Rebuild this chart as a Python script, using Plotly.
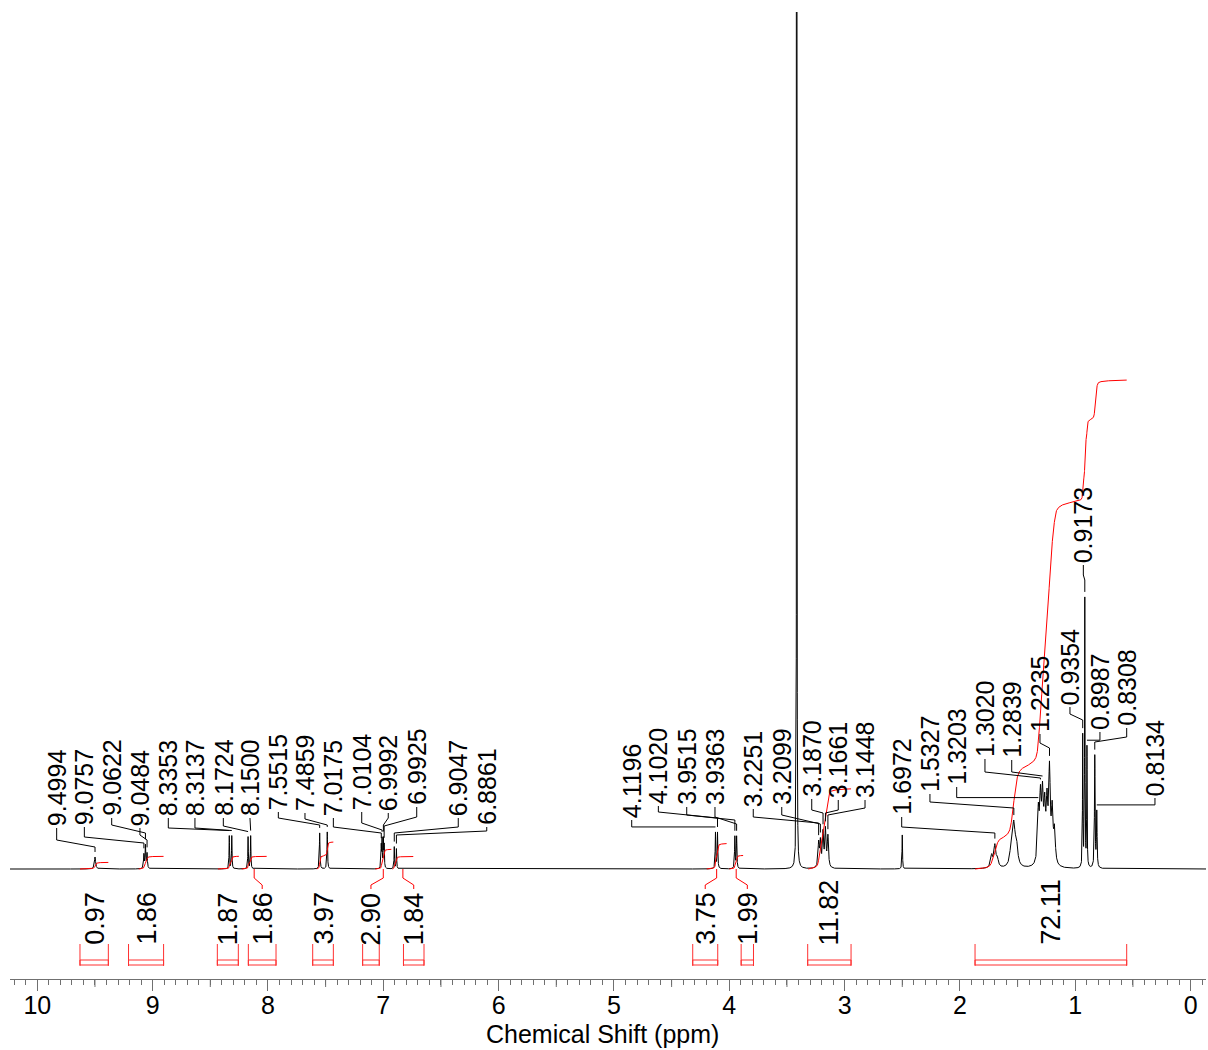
import numpy as np
import plotly.graph_objects as go

FONT = "Arial, 'Liberation Sans', sans-serif"

# ---------------------------------------------------------------
# Picked lines: chemical shift (ppm), intensity (a.u.), half-width (ppm)
# ---------------------------------------------------------------
peak_ppm = [9.4994, 9.0757, 9.0622, 9.0484, 8.3353, 8.3137, 8.1724, 8.1500,
            7.5515, 7.4859, 7.0175, 7.0104, 6.9992, 6.9925, 6.9047, 6.8861,
            4.1196, 4.1020, 3.9515, 3.9363,
            3.2251, 3.2099, 3.1870, 3.1661, 3.1448,
            1.6972, 1.5327, 1.3203, 1.3020, 1.2839, 1.2235,
            0.9354, 0.9173, 0.8987, 0.8308, 0.8134]
peak_height = [12, 14, 23, 15, 33, 33, 32, 33,
               36, 37, 22, 28, 28, 22, 22, 20,
               36, 36, 32, 32,
               24, 25, 34, 37, 31,
               22, 37, 50, 60, 62, 90,
               131, 268, 119, 112, 55]
peak_hwhm = [0.006, 0.0035, 0.0035, 0.0035, 0.0025, 0.0025, 0.0025, 0.0025,
             0.003, 0.003, 0.0025, 0.0025, 0.0025, 0.0025, 0.0025, 0.0025,
             0.003, 0.003, 0.003, 0.003,
             0.006, 0.006, 0.006, 0.006, 0.006,
             0.010, 0.013, 0.0083, 0.0083, 0.0083, 0.0083,
             0.0022, 0.0022, 0.0022, 0.0032, 0.0032]

# Unpicked lines: solvent signals and multiplet components
extra_ppm = [3.415, 2.500, 1.725, 1.675, 1.553, 1.510, 1.265, 1.245, 1.200, 1.180]
extra_height = [6000, 34, 12, 8, 22, 20, 50, 55, 50, 32]
extra_hwhm = [0.0008, 0.0025, 0.010, 0.010, 0.013, 0.013, 0.0083, 0.0083, 0.0083, 0.0083]

# Integral regions (ppm), their values (H) and bracket extents
integral_value = [0.97, 1.86, 1.87, 1.86, 3.97, 2.90, 1.84, 3.75, 1.99, 11.82, 72.11]
integral_from = [9.630, 9.121, 8.434, 8.228, 7.577, 7.070, 6.920, 4.196, 4.000, 3.315, 1.869]
integral_to = [9.384, 8.905, 8.252, 8.011, 7.433, 6.930, 6.740, 4.023, 3.880, 2.944, 0.554]
bracket_from = [9.630, 9.209, 8.439, 8.170, 7.612, 7.179, 6.825, 4.317, 3.897, 3.320, 1.869]
bracket_to = [9.384, 8.905, 8.257, 7.930, 7.433, 7.035, 6.647, 4.100, 3.790, 2.944, 0.554]
integral_linked = [False, False, False, True, False, True, True, True, True, False, False]

# Axis ticks
major_ticks = list(range(0, 11))
tick_labels = [str(v) for v in major_ticks]
x_title = "Chemical Shift (ppm)"

# ---------------------------------------------------------------
# Layout of the pick labels: column position (ppm), label foot,
# upper elbow and lower elbow of the leader (a.u. above baseline)
# ---------------------------------------------------------------
label_x = [9.832, 9.592, 9.355, 9.110, 8.864, 8.633, 8.387, 8.156,
           7.910, 7.679, 7.433, 7.187, 6.957, 6.710, 6.350, 6.103,
           4.846, 4.615, 4.369, 4.124,
           3.792, 3.545, 3.285, 3.055, 2.823,
           2.505, 2.260, 2.028, 1.783, 1.551, 1.306,
           1.046, 0.930, 0.786, 0.554, 0.309]
label_foot = [41, 42, 51, 41, 51, 51, 51, 51,
              57, 56, 51, 57, 56, 62, 51, 42,
              49, 63, 62, 62,
              60, 62, 70, 69, 69,
              52, 75, 82, 110, 109, 135,
              162, 304, 137, 141, 71]
elbow_hi = [29, 32, 44, 34, 41, 41, 43, 43,
            51, 50, 42, 46, 51, 52, 42, 38,
            41, 57, 54, 52,
            52, 54, 59, 59, 61,
            42, 67, 69, 97, 97, 126,
            155, 294, 126, 132, 59]
elbow_lo = [22, 26, 36, 29, 34, 34, 36, 36,
            44, 44, 36, 39, 44, 43, 36, 34,
            34, 51, 49, 45,
            46, 45, 56, 56, 54,
            36, 61, 61, 91, 91, 121,
            149, 289, 122, 127, 52]
LEADER_GAP = 5
H_PER_PROTON = 6.78

Y_MIN, Y_MAX = -110, 857
X_LEFT, X_RIGHT = 10.2367, -0.1336


def lorentz(x, c, h, w):
    return h * w * w / ((x - c) ** 2 + w * w)


all_ppm = np.array(peak_ppm + extra_ppm)
all_h = np.array(peak_height + extra_height, dtype=float)
all_w = np.array(peak_hwhm + extra_hwhm)


def spectrum(x):
    x = np.asarray(x, dtype=float)
    out = np.zeros_like(x)
    for c, h, w in zip(all_ppm, all_h, all_w):
        out += lorentz(x, c, h, w)
    return out


grid = np.unique(np.concatenate([np.arange(X_RIGHT, X_LEFT, 0.0004), all_ppm]))
spec = spectrum(grid)

# integral curves, each starting on the baseline
int_x, int_y = [], []
for val, a, b in zip(integral_value, integral_from, integral_to):
    m = (grid <= a) & (grid >= b)
    xs = grid[m][::-1]
    ys = spec[m][::-1]
    cum = np.concatenate([[0.0], np.cumsum(0.5 * (ys[1:] + ys[:-1]) * np.abs(np.diff(xs)))])
    cum = cum / cum[-1] * val * H_PER_PROTON
    int_x += list(xs) + [None]
    int_y += list(cum) + [None]

# pick-label leaders
tops = spectrum(peak_ppm)
lead_x, lead_y = [], []
for p, top, lx, lf, e1, e2 in zip(peak_ppm, tops, label_x, label_foot, elbow_hi, elbow_lo):
    end = top + LEADER_GAP
    e2 = max(e2, end)
    e1 = max(e1, e2)
    lf = max(lf, e1)
    lead_x += [lx, lx, p, p, None]
    lead_y += [lf, e1, e2, end, None]

# integral brackets and label links
br_x, br_y = [], []
for a, b in zip(bracket_from, bracket_to):
    br_x += [a, a, None, b, b, None, a, b, b, a, a, None]
    br_y += [-75, -97, None, -75, -97, None, -91, -91, -96, -96, -91, None]

link_x, link_y = [], []
for a, b, ba, bb, linked in zip(integral_from, integral_to, bracket_from, bracket_to, integral_linked):
    if linked:
        cc = (a + b) / 2
        lc = (ba + bb) / 2
        link_x += [cc, cc, lc, lc, None]
        link_y += [0, -9, -16, -20, None]

fig = go.Figure()
fig.add_trace(go.Scatter(x=grid, y=spec, mode="lines",
                         line=dict(color="black", width=1), hoverinfo="skip"))
fig.add_trace(go.Scatter(x=int_x, y=int_y, mode="lines",
                         line=dict(color="#ff0000", width=1), hoverinfo="skip"))
fig.add_trace(go.Scatter(x=lead_x, y=lead_y, mode="lines",
                         line=dict(color="black", width=1), hoverinfo="skip"))
fig.add_trace(go.Scatter(x=br_x, y=br_y, mode="lines",
                         line=dict(color="#ff3030", width=1), hoverinfo="skip"))
fig.add_trace(go.Scatter(x=link_x, y=link_y, mode="lines",
                         line=dict(color="#ff0000", width=1), hoverinfo="skip"))

annotations = []
for p, lx, lf in zip(peak_ppm, label_x, label_foot):
    annotations.append(dict(x=lx, y=lf, xref="x", yref="y", text=f"{p:.4f}",
                            textangle=-90, showarrow=False, xanchor="center",
                            yanchor="bottom", font=dict(family=FONT, size=25, color="black")))
for val, ba, bb in zip(integral_value, bracket_from, bracket_to):
    annotations.append(dict(x=(ba + bb) / 2, y=-78, xref="x", yref="y", text=f"{val:.2f}",
                            textangle=-90, showarrow=False, xanchor="center",
                            yanchor="bottom", font=dict(family=FONT, size=27, color="black")))

# axis title, set slightly left of the plot centre
plot_w = 1208 - 10 - 2
plot_h = 1050 - 12 - 71
annotations.append(dict(x=(602 - 10) / plot_w, y=-(1034 - 979) / plot_h, xref="paper", yref="paper",
                        text=x_title, showarrow=False, xanchor="center", yanchor="middle",
                        font=dict(family=FONT, size=25, color="black")))

# half-unit ticks are a little longer than the tenth ticks
shapes = [dict(type="line", xref="x", yref="paper", x0=v + 0.5, x1=v + 0.5,
               y0=0, y1=-8 / plot_h, line=dict(color="#707070", width=1))
          for v in major_ticks[:-1]]

fig.update_layout(
    width=1208, height=1050,
    margin=dict(l=10, r=2, t=12, b=71),
    paper_bgcolor="white", plot_bgcolor="white",
    showlegend=False,
    annotations=annotations,
    shapes=shapes,
    font=dict(family=FONT, color="black"),
    xaxis=dict(
        range=[X_LEFT, X_RIGHT], showgrid=False, zeroline=False,
        showline=True, linecolor="#707070", linewidth=1,
        tickmode="array", tickvals=major_ticks, ticktext=tick_labels,
        ticks="outside", ticklen=11, tickwidth=1, tickcolor="#707070",
        minor=dict(dtick=0.1, tick0=0, ticks="outside", ticklen=5,
                   tickcolor="#707070", tickwidth=1),
        tickfont=dict(family=FONT, size=25, color="black"),
        ticklabelstandoff=-7,
        automargin=False,
    ),
    yaxis=dict(range=[Y_MIN, Y_MAX], visible=False, showgrid=False, zeroline=False),
)

fig.write_html("out.html")
